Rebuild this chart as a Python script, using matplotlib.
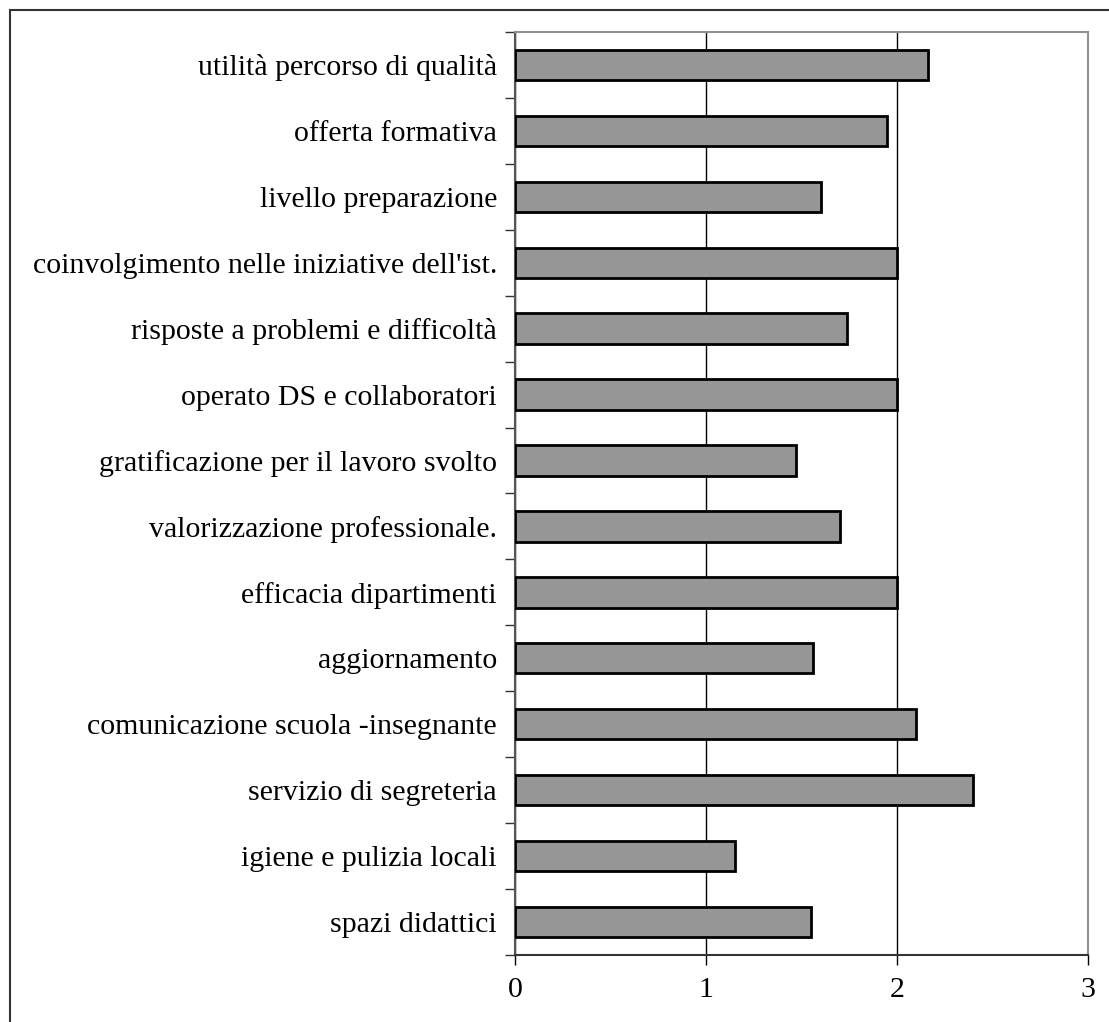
import matplotlib.pyplot as plt
import numpy as np
from matplotlib.patches import Rectangle

categories = [
    "utilità percorso di qualità",
    "offerta formativa",
    "livello preparazione",
    "coinvolgimento nelle iniziative dell'ist.",
    "risposte a problemi e difficoltà",
    "operato DS e collaboratori",
    "gratificazione per il lavoro svolto",
    "valorizzazione professionale.",
    "efficacia dipartimenti",
    "aggiornamento",
    "comunicazione scuola -insegnante",
    "servizio di segreteria",
    "igiene e pulizia locali",
    "spazi didattici",
]
values = [2.16, 1.95, 1.60, 2.00, 1.74, 2.00, 1.47, 1.70, 2.00, 1.56, 2.10, 2.40, 1.15, 1.55]
xticks = [0, 1, 2, 3]

plt.rcParams['font.family'] = ['Liberation Serif', 'DejaVu Serif']

fig = plt.figure(figsize=(11.09, 10.22), dpi=100)
ax = fig.add_axes([0.4644, 0.0656, 0.5167, 0.9031])

# outer frame, clipped on right/bottom like the original
fig.patches.append(Rectangle((10 / 1109, -0.05), 1.2, 1 - 10 / 1022 + 0.05,
                             transform=fig.transFigure, fill=False,
                             edgecolor="#333333", linewidth=1.5))

y = np.arange(len(categories))
ax.barh(y, values, height=0.46, color="#969696", edgecolor="black",
        linewidth=2.0, zorder=3)

ax.set_xlim(0, 3)
ax.set_ylim(len(categories) - 0.5, -0.5)
ax.set_xticks(xticks)
ax.set_xticklabels([str(t) for t in xticks], fontsize=21.5)
ax.tick_params(axis="x", direction="out", length=7, width=1, pad=9, colors="black")

ax.set_yticks(y)
ax.set_yticklabels(categories, fontsize=21.5)
ax.tick_params(axis="y", which="major", length=0, pad=13)
ax.set_yticks(np.arange(len(categories) + 1) - 0.5, minor=True)
ax.tick_params(axis="y", which="minor", direction="out", length=7, width=1, color="#333333")

ax.grid(axis="x", color="black", linewidth=1, zorder=0)
ax.set_axisbelow(True)

ax.spines["left"].set_color("#555555")
ax.spines["bottom"].set_color("#333333")
ax.spines["top"].set_color("#909090")
ax.spines["right"].set_color("#909090")
for s in ax.spines.values():
    s.set_linewidth(1.5)

fig.savefig("out.png", dpi=100)
